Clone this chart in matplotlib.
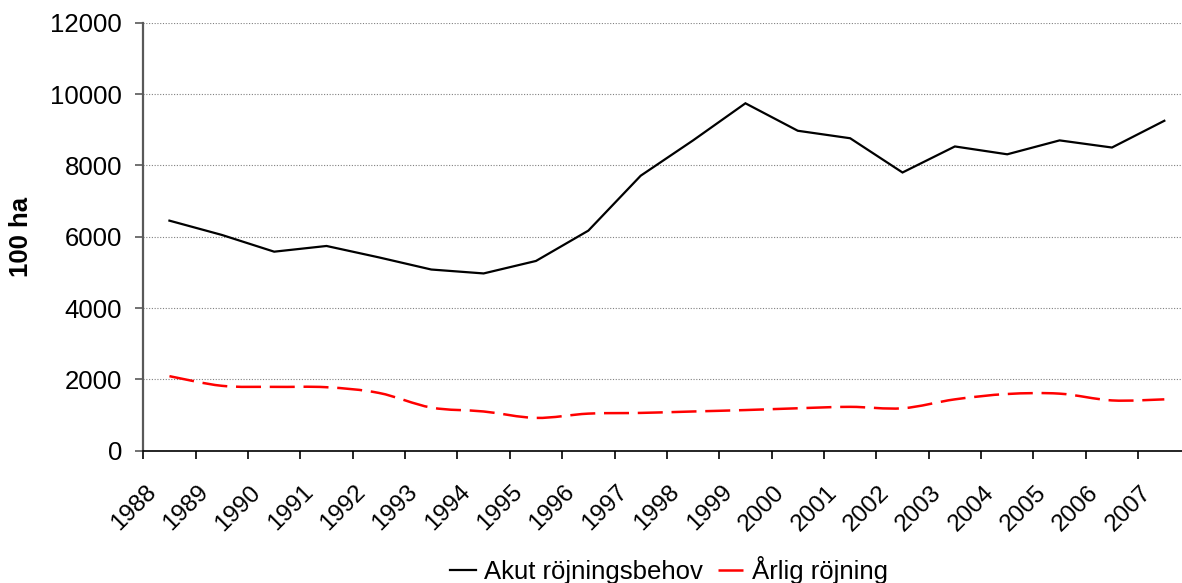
import matplotlib
matplotlib.use("Agg")
import matplotlib.pyplot as plt
import matplotlib.transforms as mtransforms
from matplotlib.path import Path
from matplotlib.patches import PathPatch
from matplotlib.lines import Line2D

plt.rcParams['font.family'] = ['Liberation Sans', 'DejaVu Sans']

# data
years = ["1988", "1989", "1990", "1991", "1992", "1993", "1994", "1995", "1996", "1997",
         "1998", "1999", "2000", "2001", "2002", "2003", "2004", "2005", "2006", "2007"]
akut = [6450, 6050, 5580, 5740, 5420, 5080, 4970, 5320, 6170, 7710,
        8700, 9740, 8970, 8760, 7800, 8530, 8310, 8700, 8500, 9250]
arlig = [2090, 1820, 1790, 1780, 1620, 1210, 1100, 920, 1040, 1060,
         1100, 1140, 1190, 1230, 1190, 1440, 1590, 1600, 1410, 1440]
series_names = ["Akut röjningsbehov", "Årlig röjning"]
yticks = [0, 2000, 4000, 6000, 8000, 10000, 12000]

fig = plt.figure(figsize=(11.82, 5.83), dpi=100)
ax = fig.add_axes([0.1212, 0.2269, 0.886, 0.7342])

x = list(range(len(years)))
ax.plot(x, akut, color='black', lw=1.6, solid_joinstyle='miter', zorder=3)

# Excel-style smoothed line for the red series (bezier through the points)
n = len(arlig)
verts = [(x[0], arlig[0])]
codes = [Path.MOVETO]
for i in range(n - 1):
    i0, i3 = max(i - 1, 0), min(i + 2, n - 1)
    x0, y0 = x[i0], arlig[i0]
    x1, y1 = x[i], arlig[i]
    x2, y2 = x[i + 1], arlig[i + 1]
    x3, y3 = x[i3], arlig[i3]
    verts.append((x1 + (x2 - x0) / 6, y1 + (y2 - y0) / 6))
    verts.append((x2 - (x3 - x1) / 6, y2 - (y3 - y1) / 6))
    verts.append((x2, y2))
    codes += [Path.CURVE4] * 3
red_ls = (0, (10, 3.5))
ax.add_patch(PathPatch(Path(verts, codes), fill=False, edgecolor='red', lw=1.8,
                       linestyle=red_ls, zorder=3))

ax.set_xlim(-0.5, len(years) - 0.5)
ax.set_ylim(0, 12000)
ax.set_yticks(yticks)
ax.set_yticklabels([str(v) for v in yticks], fontsize=18.5)
ax.yaxis.grid(True, linestyle=(0, (1, 1.5)), color='#808080', lw=0.8)
ax.set_axisbelow(True)

for s in ['top', 'right']:
    ax.spines[s].set_visible(False)
ax.spines['left'].set_color('#595959')
ax.spines['left'].set_linewidth(1.6)
ax.spines['bottom'].set_color('black')
ax.spines['bottom'].set_linewidth(1.2)

ax.tick_params(axis='y', length=5.8, width=1.2, color='#595959', pad=9.5)

# tick marks between categories, labels at category centres
ax.set_xticks([i - 0.5 for i in x])
ax.set_xticklabels([])
ax.set_xticks(x, minor=True)
ax.set_xticklabels(years, minor=True, rotation=45, ha='right', va='top', fontsize=17.5)
ax.tick_params(axis='x', which='major', length=5.8, width=1.2, color='black')
ax.tick_params(axis='x', which='minor', length=0, pad=22)
shift = mtransforms.ScaledTranslation(-9 / 100, 0, fig.dpi_scale_trans)
for lab in ax.get_xticklabels(minor=True):
    lab.set_transform(lab.get_transform() + shift)

ax.set_ylabel("100 ha", fontsize=18.5, fontweight='bold')
ax.yaxis.set_label_coords(-0.1053, 0.5)

handles = [Line2D([], [], color='black', lw=1.6),
           Line2D([], [], color='red', lw=1.8, ls=red_ls)]
fig.legend(handles, series_names, loc='center', bbox_to_anchor=(669 / 1182, 1 - 570 / 583),
           ncol=2, frameon=False, fontsize=18.5, handlelength=1.0, handletextpad=0.3,
           columnspacing=0.6, borderpad=0)

fig.savefig("out.png", dpi=100)
